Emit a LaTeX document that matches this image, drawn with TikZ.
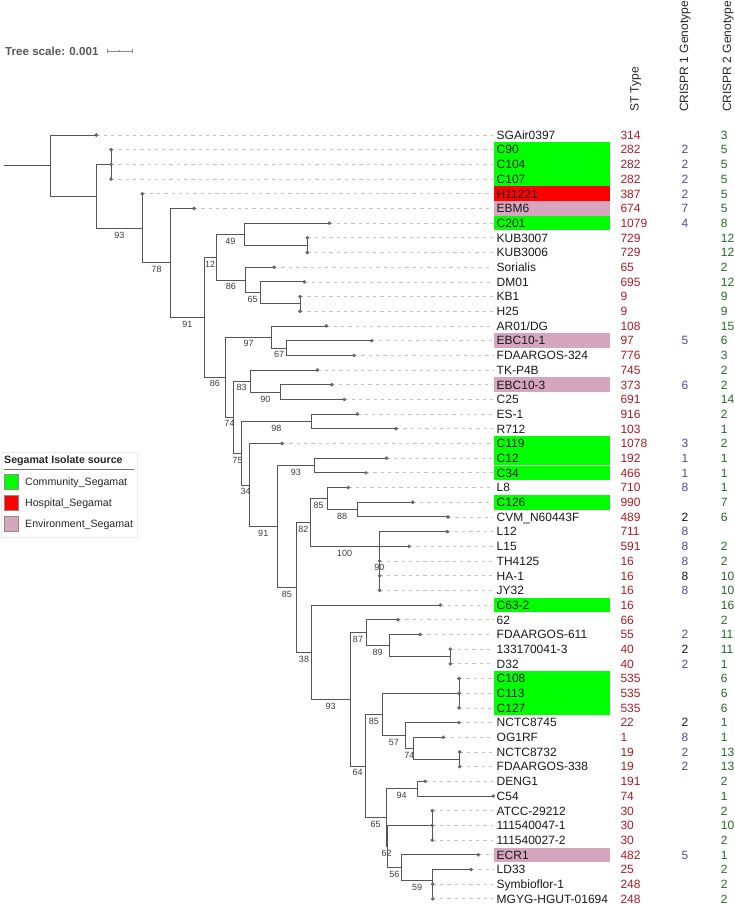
\documentclass[tikz,border=0pt]{standalone}
\usepackage{fontspec}
\setmainfont{Liberation Sans}
\definecolor{treec}{RGB}{85,85,85}
\definecolor{dashc}{RGB}{195,195,195}
\definecolor{comm}{RGB}{0,255,0}
\definecolor{hosp}{RGB}{255,0,0}
\definecolor{envi}{RGB}{213,166,190}
\definecolor{stc}{RGB}{165,30,40}
\definecolor{cbl}{RGB}{75,75,150}
\definecolor{cblk}{RGB}{20,20,20}
\definecolor{cgr}{RGB}{35,105,35}
\definecolor{bsc}{RGB}{60,60,60}
\tikzset{
 br/.style={draw=treec, line width=0.9pt},
 leafdash/.style={draw=dashc, line width=0.8pt, dash pattern=on 3.3pt off 4pt},
 tipdot/.style={circle, fill=black!55, draw=black!70, line width=0.3pt, inner sep=0pt, minimum size=3.2pt},
 bs/.style={font=\fontsize{9}{10}\selectfont, text=bsc, inner sep=0pt, anchor=north, yshift=-3.2pt},
 lbl/.style={font=\fontsize{12}{14}\selectfont, text=black!90, anchor=west, inner sep=0pt, text height=8.6pt, text depth=0pt},
 stlab/.style={lbl, text=stc},
 c1lab/.style={lbl, anchor=center},
 c2lab/.style={lbl, text=cgr},
 hdr/.style={font=\fontsize{12}{14}\selectfont, text=black!85, rotate=90, anchor=west, inner sep=0pt, text height=8.6pt, text depth=2.5pt},
 legtxt/.style={font=\fontsize{10.6}{12}\selectfont, text=black!85, anchor=west, inner sep=0pt, text height=7.6pt, text depth=0pt},
 swatch/.style={draw=black!45, line width=0.5pt, minimum width=14pt, minimum height=15pt, inner sep=0pt},
}
% row, tip x, name, fill, ST, CRISPR1, CRISPR1 colour, CRISPR2
\newcommand\tiprow[8]{%
 \coordinate (t#1) at (#2,{ry(#1)});
 \coordinate (e#1) at (493,{ry(#1)});
 \path[fill=#4] (494,{ry(#1)+7.3}) rectangle (610,{ry(#1)-7.3});
 \node[lbl] (lab#1) at (496.5,{ry(#1)}) {#3};
 \node[stlab] (st#1) at (620.3,{ry(#1)}) {#5};
 \node[c1lab,text=#7] (ca#1) at (685,{ry(#1)}) {#6};
 \node[c2lab] (cb#1) at (720.7,{ry(#1)}) {#8};
 \draw[leafdash] (t#1) -- (e#1);
}
\newcommand\brl[3]{\draw[br] (#1) |- (#2) node[bs,pos=0.75] (bs#2) {#3};}
\newcommand\bra[2]{\draw[br] (#1) |- (#2);}
\begin{document}
\begin{tikzpicture}[x=1pt,y=1pt, declare function={ry(\r)=-(120.31+14.69*\r);}]
\useasboundingbox (0,0) rectangle (735,-904);

% ---------- tree scale ----------
\node[font=\bfseries\fontsize{11.6}{13}\selectfont, text=black!65, anchor=west, inner sep=0pt, text height=8.4pt, text depth=0pt] (ts) at (5,-51) {Tree scale: 0.001};
\coordinate (sb1) at (107,-51);
\coordinate (sb2) at (132,-51);
\draw[black!45, line width=0.8pt] (sb1) -- (sb2);
\draw[black!45, line width=0.8pt] ([yshift=2.2pt]sb1) -- ([yshift=-2.2pt]sb1);
\draw[black!45, line width=0.8pt] ([yshift=2.2pt]sb2) -- ([yshift=-2.2pt]sb2);
\draw[black!45, line width=0.6pt] (119.5,-50) -- (119.5,-52);

% ---------- headers ----------
\node[hdr] (hST) at (635.5,-112) {ST Type};
\node[hdr] (hC1) at (685,-112) {CRISPR 1 Genotype};
\node[hdr] (hC2) at (728,-112) {CRISPR 2 Genotype};

% ---------- legend ----------
\draw[draw=black!8, line width=0.5pt] (1,-452) rectangle (137,-537);
\node[legtxt, font=\bfseries\fontsize{10.6}{12}\selectfont] (legT) at (4,-460) {Segamat Isolate source};
\draw[black!55, line width=0.7pt] (4,-469) -- (134,-469);
\node[swatch, fill=comm] (sw1) at (11,-481.5) {};
\node[swatch, fill=hosp] (sw2) at (11,-502.5) {};
\node[swatch, fill=envi] (sw3) at (11,-523.5) {};
\node[legtxt] (lg1) at (25,-481.7) {Community\_Segamat};
\node[legtxt] (lg2) at (25,-502.7) {Hospital\_Segamat};
\node[legtxt] (lg3) at (25,-523.7) {Environment\_Segamat};

% ---------- leaf rows ----------
\tiprow{1}{96.3}{SGAir0397}{none}{314}{}{cbl}{3}
\tiprow{2}{111}{C90}{comm}{282}{2}{cbl}{5}
\tiprow{3}{111}{C104}{comm}{282}{2}{cbl}{5}
\tiprow{4}{111}{C107}{comm}{282}{2}{cbl}{5}
\tiprow{5}{142.3}{H11221}{hosp}{387}{2}{cbl}{5}
\tiprow{6}{194}{EBM6}{envi}{674}{7}{cbl}{5}
\tiprow{7}{329.3}{C201}{comm}{1079}{4}{cbl}{8}
\tiprow{8}{307.3}{KUB3007}{none}{729}{}{cbl}{12}
\tiprow{9}{307.3}{KUB3006}{none}{729}{}{cbl}{12}
\tiprow{10}{274}{Sorialis}{none}{65}{}{cbl}{2}
\tiprow{11}{304.3}{DM01}{none}{695}{}{cbl}{12}
\tiprow{12}{300}{KB1}{none}{9}{}{cbl}{9}
\tiprow{13}{300}{H25}{none}{9}{}{cbl}{9}
\tiprow{14}{326.3}{AR01/DG}{none}{108}{}{cbl}{15}
\tiprow{15}{371.7}{EBC10-1}{envi}{97}{5}{cbl}{6}
\tiprow{16}{354}{FDAARGOS-324}{none}{776}{}{cbl}{3}
\tiprow{17}{317.3}{TK-P4B}{none}{745}{}{cbl}{2}
\tiprow{18}{331.7}{EBC10-3}{envi}{373}{6}{cbl}{2}
\tiprow{19}{344.3}{C25}{none}{691}{}{cbl}{14}
\tiprow{20}{357.3}{ES-1}{none}{916}{}{cbl}{2}
\tiprow{21}{396}{R712}{none}{103}{}{cbl}{1}
\tiprow{22}{282}{C119}{comm}{1078}{3}{cbl}{2}
\tiprow{23}{386.7}{C12}{comm}{192}{1}{cbl}{1}
\tiprow{24}{366}{C34}{comm}{466}{1}{cbl}{1}
\tiprow{25}{348.3}{L8}{none}{710}{8}{cbl}{1}
\tiprow{26}{412.7}{C126}{comm}{990}{}{cbl}{7}
\tiprow{27}{448}{CVM\_N60443F}{none}{489}{2}{cblk}{6}
\tiprow{28}{447.3}{L12}{none}{711}{8}{cbl}{}
\tiprow{29}{409}{L15}{none}{591}{8}{cbl}{2}
\tiprow{30}{379.6}{TH4125}{none}{16}{8}{cbl}{2}
\tiprow{31}{379.6}{HA-1}{none}{16}{8}{cblk}{10}
\tiprow{32}{379.6}{JY32}{none}{16}{8}{cbl}{10}
\tiprow{33}{440.3}{C63-2}{comm}{16}{}{cbl}{16}
\tiprow{34}{398}{62}{none}{66}{}{cbl}{2}
\tiprow{35}{420}{FDAARGOS-611}{none}{55}{2}{cbl}{11}
\tiprow{36}{450.3}{133170041-3}{none}{40}{2}{cblk}{11}
\tiprow{37}{450.3}{D32}{none}{40}{2}{cbl}{1}
\tiprow{38}{459}{C108}{comm}{535}{}{cbl}{6}
\tiprow{39}{459}{C113}{comm}{535}{}{cbl}{6}
\tiprow{40}{459}{C127}{comm}{535}{}{cbl}{6}
\tiprow{41}{459}{NCTC8745}{none}{22}{2}{cblk}{1}
\tiprow{42}{443.3}{OG1RF}{none}{1}{8}{cbl}{1}
\tiprow{43}{459.7}{NCTC8732}{none}{19}{2}{cbl}{13}
\tiprow{44}{459.7}{FDAARGOS-338}{none}{19}{2}{cbl}{13}
\tiprow{45}{425.3}{DENG1}{none}{191}{}{cbl}{2}
\tiprow{46}{493.3}{C54}{none}{74}{}{cbl}{1}
\tiprow{47}{432.3}{ATCC-29212}{none}{30}{}{cbl}{2}
\tiprow{48}{432.3}{111540047-1}{none}{30}{}{cbl}{10}
\tiprow{49}{432.3}{111540027-2}{none}{30}{}{cbl}{2}
\tiprow{50}{478.3}{ECR1}{envi}{482}{5}{cbl}{1}
\tiprow{51}{471}{LD33}{none}{25}{}{cbl}{2}
\tiprow{52}{432.7}{Symbioflor-1}{none}{248}{}{cbl}{2}
\tiprow{53}{432.7}{MGYG-HGUT-01694}{none}{248}{}{cbl}{2}

% ---------- internal nodes ----------
\coordinate (stub) at (4,{ry(3.0872)});
\coordinate (root) at (50,{ry(3.0872)});
\coordinate (nA) at (96.3,{ry(5.1744)});
\coordinate (nC) at (111,{ry(3)});
\coordinate (nB) at (142.3,{ry(7.3488)});
\coordinate (nD) at (170.7,{ry(9.6976)});
\coordinate (nE) at (204,{ry(13.3952)});
\coordinate (nF) at (216.3,{ry(9.3125)});
\coordinate (nH) at (244.3,{ry(7.75)});
\coordinate (nK) at (307.3,{ry(8.5)});
\coordinate (nI) at (245.3,{ry(10.875)});
\coordinate (nL) at (260,{ry(11.75)});
\coordinate (nM) at (300,{ry(12.5)});
\coordinate (nG) at (225.7,{ry(17.4779)});
\coordinate (nN) at (271.7,{ry(14.75)});
\coordinate (nP) at (286.7,{ry(15.5)});
\coordinate (nO) at (233.3,{ry(20.2057)});
\coordinate (nQ) at (250,{ry(17.75)});
\coordinate (nS) at (280.7,{ry(18.5)});
\coordinate (nR) at (241.7,{ry(22.6614)});
\coordinate (nT) at (311,{ry(20.5)});
\coordinate (nU) at (249.5,{ry(24.8228)});
\coordinate (nV) at (277,{ry(27.6455)});
\coordinate (nW) at (314.7,{ry(23.5)});
\coordinate (nX) at (296.7,{ry(31.791)});
\coordinate (nY) at (310,{ry(27.375)});
\coordinate (nY1) at (327.3,{ry(25.75)});
\coordinate (nY3) at (357,{ry(26.5)});
\coordinate (nY2) at (379,{ry(29)});
\coordinate (nY4) at (379.6,{ry(30)});
\coordinate (nY5) at (379.6,{ry(31)});
\coordinate (nZ) at (311.3,{ry(36.207)});
\coordinate (nZ1) at (350,{ry(39.4141)});
\coordinate (nZ2) at (366,{ry(34.875)});
\coordinate (nZ4) at (389.3,{ry(35.75)});
\coordinate (nZ5) at (450.3,{ry(36.5)});
\coordinate (nZ3) at (365.3,{ry(43.9531)});
\coordinate (nZ6) at (382.3,{ry(40.4375)});
\coordinate (nZ8) at (459,{ry(39)});
\coordinate (nZ9) at (405.3,{ry(41.875)});
\coordinate (nZ10) at (413.3,{ry(42.75)});
\coordinate (nZ11) at (459.7,{ry(43.5)});
\coordinate (nZ7) at (386,{ry(47.4688)});
\coordinate (nZ12) at (417.3,{ry(45.5)});
\coordinate (nZ13) at (387,{ry(49.4375)});
\coordinate (nZ14) at (432.3,{ry(48)});
\coordinate (nZ15) at (401.7,{ry(50.875)});
\coordinate (nZ16) at (432.3,{ry(51.75)});
\coordinate (nZ17) at (432.7,{ry(52.5)});

% ---------- branches ----------
\draw[br] (stub) -- (root);
\bra{root}{t1} \bra{root}{nA}
\bra{nA}{nC} \brl{nA}{nB}{93}
\bra{nC}{t2} \bra{nC}{t3} \bra{nC}{t4}
\bra{nB}{t5} \brl{nB}{nD}{78}
\bra{nD}{t6} \brl{nD}{nE}{91}
\brl{nE}{nF}{12} \brl{nE}{nG}{86}
\brl{nF}{nH}{49} \brl{nF}{nI}{86}
\bra{nH}{t7} \bra{nH}{nK}
\bra{nK}{t8} \bra{nK}{t9}
\bra{nI}{t10} \brl{nI}{nL}{65}
\bra{nL}{t11} \bra{nL}{nM}
\bra{nM}{t12} \bra{nM}{t13}
\brl{nG}{nN}{97} \brl{nG}{nO}{74}
\bra{nN}{t14} \brl{nN}{nP}{67}
\bra{nP}{t15} \bra{nP}{t16}
\brl{nO}{nQ}{83} \brl{nO}{nR}{75}
\bra{nQ}{t17} \brl{nQ}{nS}{90}
\bra{nS}{t18} \bra{nS}{t19}
\brl{nR}{nT}{98} \brl{nR}{nU}{34}
\bra{nT}{t20} \bra{nT}{t21}
\bra{nU}{t22} \brl{nU}{nV}{91}
\brl{nV}{nW}{93} \brl{nV}{nX}{85}
\bra{nW}{t23} \bra{nW}{t24}
\brl{nX}{nY}{82} \brl{nX}{nZ}{38}
\brl{nY}{nY1}{85} \brl{nY}{nY2}{100}
\bra{nY1}{t25} \brl{nY1}{nY3}{88}
\bra{nY3}{t26} \bra{nY3}{t27}
\bra{nY2}{t28} \brl{nY2}{nY4}{90}
\bra{nY4}{t29} \bra{nY4}{nY5}
\bra{nY5}{t30} \bra{nY5}{t31} \bra{nY5}{t32}
\bra{nZ}{t33} \brl{nZ}{nZ1}{93}
\brl{nZ1}{nZ2}{87} \brl{nZ1}{nZ3}{64}
\bra{nZ2}{t34} \brl{nZ2}{nZ4}{89}
\bra{nZ4}{t35} \bra{nZ4}{nZ5}
\bra{nZ5}{t36} \bra{nZ5}{t37}
\brl{nZ3}{nZ6}{85} \brl{nZ3}{nZ7}{65}
\bra{nZ6}{nZ8} \brl{nZ6}{nZ9}{57}
\bra{nZ8}{t38} \bra{nZ8}{t39} \bra{nZ8}{t40}
\bra{nZ9}{t41} \brl{nZ9}{nZ10}{74}
\bra{nZ10}{t42} \bra{nZ10}{nZ11}
\bra{nZ11}{t43} \bra{nZ11}{t44}
\brl{nZ7}{nZ12}{94} \brl{nZ7}{nZ13}{62}
\bra{nZ12}{t45} \bra{nZ12}{t46}
\bra{nZ13}{nZ14} \brl{nZ13}{nZ15}{56}
\bra{nZ14}{t47} \bra{nZ14}{t48} \bra{nZ14}{t49}
\bra{nZ15}{t50} \brl{nZ15}{nZ16}{59}
\bra{nZ16}{t51} \bra{nZ16}{nZ17}
\bra{nZ17}{t52} \bra{nZ17}{t53}

% ---------- tip dots ----------
\foreach \i in {1,...,53} {\node[tipdot] (d\i) at (t\i) {};}
\end{tikzpicture}
\end{document}
